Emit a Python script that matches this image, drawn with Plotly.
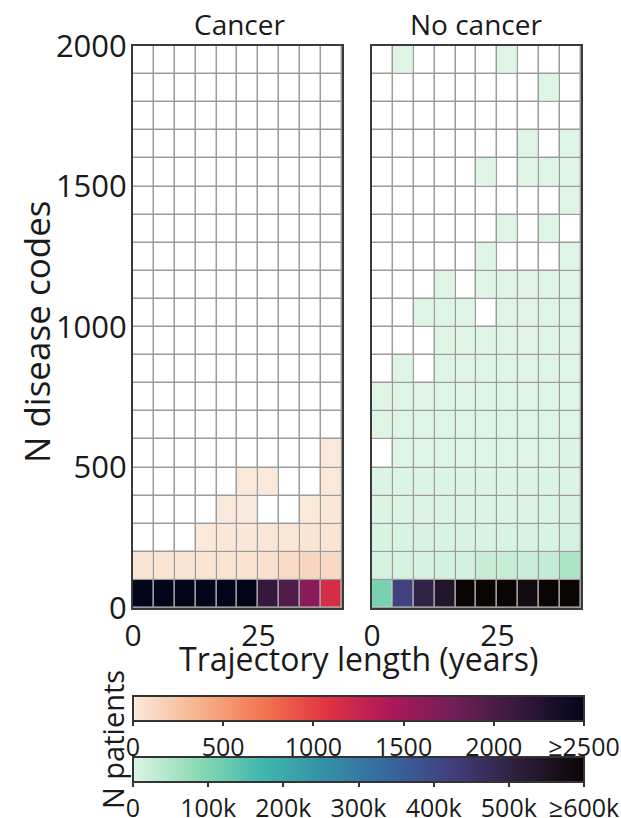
import numpy as np
import plotly.graph_objects as go

# ---------------- data ----------------
year_bin_edges = [0, 4.17, 8.33, 12.5, 16.67, 20.83, 25, 29.17, 33.33, 37.5, 41.67]
code_bin_edges = [0, 100, 200, 300, 400, 500, 600, 700, 800, 900, 1000,
                  1100, 1200, 1300, 1400, 1500, 1600, 1700, 1800, 1900, 2000]
x_tick_vals = [0, 25]
y_tick_vals = [0, 500, 1000, 1500, 2000]

N = None
# rows: bottom (0-100 codes) to top (1900-2000 codes); columns: trajectory-length bins
cancer_counts = [
    [2600, 2600, 2600, 2600, 2600, 2550, 2150, 1975, 1625, 1150],
    [45, 45, 45, 50, 55, 60, 70, 110, 140, 120],
    [N, N, N, 20, 25, 25, 30, 35, 40, 40],
    [N, N, N, N, 15, 15, N, N, 20, 25],
    [N, N, N, N, N, 10, 10, N, N, 15],
    [N, N, N, N, N, N, N, N, N, 10],
] + [[N] * 10 for _ in range(14)]

nocancer_counts = [
    [108000, 420000, 500000, 540000, 620000, 620000, 620000, 580000, 620000, 610000],
    [10000, 10000, 10000, 11000, 12000, 25000, 25000, 22000, 28000, 55000],
    [5000, 5000, 5000, 5000, 5000, 6000, 6000, 6000, 7000, 9000],
    [3000, 3000, 3000, 3000, 3000, 3500, 3500, 3500, 4000, 5000],
    [2000, 2000, 2000, 2000, 2000, 2500, 2500, 2500, 2500, 3000],
    [N, 1000, 1000, 1200, 1200, 1500, 1500, 1500, 1500, 2000],
    [500, 800, 800, 900, 900, 1000, 1000, 1000, 1000, 1200],
    [300, 400, 500, 500, 600, 600, 600, 700, 700, 800],
    [N, 200, N, 300, 300, 400, 400, 400, 500, 500],
    [N, N, N, 200, 200, 250, 250, 300, 300, 300],
    [N, N, 100, 100, 100, N, 150, 150, 200, 200],
    [N, N, N, 80, N, 100, 100, 100, 120, 120],
    [N, N, N, N, N, 60, N, N, N, 80],
    [N, N, N, N, N, N, 40, N, 50, N],
    [N, N, N, N, N, N, N, N, N, 40],
    [N, N, N, N, N, 20, N, 30, 30, 30],
    [N, N, N, N, N, N, N, 20, N, 20],
    [N, N, N, N, N, N, N, N, N, N],
    [N, N, N, N, N, N, N, N, 10, N],
    [N, 5, N, N, N, N, 5, N, N, N],
]

cancer_cbar_vals = [0, 500, 1000, 1500, 2000, 2500]
cancer_cbar_text = ["0", "500", "1000", "1500", "2000", "≥2500"]
nocancer_cbar_vals = [0, 100000, 200000, 300000, 400000, 500000, 600000]
nocancer_cbar_text = ["0", "100k", "200k", "300k", "400k", "500k", "≥600k"]

# ---------------- styling ----------------
FONT = "Open Sans"
TXT = "#1a1a1a"
W, H = 621, 818

rocket_r = [[0, "#FAEBDD"], [0.143, "#F6B48F"], [0.286, "#F37651"], [0.429, "#E13342"],
            [0.571, "#AD1759"], [0.714, "#701F57"], [0.857, "#35193E"], [1, "#03051A"]]
mako_r = [[0, "#DEF5E5"], [0.143, "#8BDAB2"], [0.286, "#40B7AD"], [0.429, "#348FA7"],
          [0.571, "#37659E"], [0.714, "#413D7B"], [0.857, "#2E1E3B"], [1, "#0B0405"]]

def px_x(p):
    return p / W

def px_y(p):
    return 1 - p / H

GAP = 1.5
fig = go.Figure()

for xa, ya, data, cax in [("x", "y", cancer_counts, "coloraxis"),
                          ("x2", "y2", nocancer_counts, "coloraxis2")]:
    z = np.array(data, dtype=float)
    fig.add_trace(go.Heatmap(
        x=year_bin_edges, y=code_bin_edges, z=np.zeros_like(z),
        colorscale=[[0, "white"], [1, "white"]], showscale=False,
        xgap=GAP, ygap=GAP, hoverinfo="skip", xaxis=xa, yaxis=ya))
    fig.add_trace(go.Heatmap(
        x=year_bin_edges, y=code_bin_edges, z=z, coloraxis=cax,
        xgap=GAP, ygap=GAP, xaxis=xa, yaxis=ya))

axis_common = dict(showgrid=False, zeroline=False, showline=True, mirror=True,
                   linecolor="#3a3a3a", linewidth=2, ticks="")
yfont = dict(family=FONT, size=31, color=TXT)
xfont = dict(family=FONT, size=30, color=TXT)

cb_common = dict(orientation="h", xanchor="left", yanchor="top",
                 lenmode="pixels", len=451, thicknessmode="pixels", thickness=25,
                 xpad=0, ypad=0, outlinewidth=2, outlinecolor="#333",
                 ticks="outside", ticklen=4, tickwidth=2, tickcolor="#333",
                 ticklabeloverflow="allow",
                 tickfont=dict(family=FONT, size=25, color=TXT))

def ann(text, x, y, size, angle=0):
    return dict(text=text, x=px_x(x), y=px_y(y), xref="paper", yref="paper",
                xanchor="center", yanchor="middle", showarrow=False,
                textangle=angle, font=dict(family=FONT, size=size, color=TXT))

fig.update_layout(
    width=W, height=H, margin=dict(l=0, r=0, t=0, b=0, autoexpand=False),
    paper_bgcolor="white", plot_bgcolor="#9b9b9b",
    font=dict(family=FONT, color=TXT),
    xaxis=dict(domain=[px_x(133), px_x(342)], range=[0, year_bin_edges[-1]],
               tickvals=x_tick_vals, tickfont=xfont, **axis_common),
    yaxis=dict(domain=[px_y(608), px_y(46)], range=[0, 2000],
               tickvals=y_tick_vals, ticklabelstandoff=-2, tickfont=yfont, **axis_common),
    xaxis2=dict(domain=[px_x(372), px_x(581)], range=[0, year_bin_edges[-1]],
                tickvals=x_tick_vals, anchor="y2", tickfont=xfont, **axis_common),
    yaxis2=dict(domain=[px_y(608), px_y(46)], range=[0, 2000], anchor="x2",
                tickvals=y_tick_vals, showticklabels=False, **axis_common),
    coloraxis=dict(colorscale=rocket_r, cmin=0, cmax=2500,
                   colorbar=dict(x=px_x(133), y=px_y(696),
                                 tickvals=cancer_cbar_vals, ticktext=cancer_cbar_text,
                                 **cb_common)),
    coloraxis2=dict(colorscale=mako_r, cmin=0, cmax=600000,
                    colorbar=dict(x=px_x(133), y=px_y(757),
                                  tickvals=nocancer_cbar_vals, ticktext=nocancer_cbar_text,
                                  **cb_common)),
    annotations=[
        ann("Cancer", 240, 24, 28),
        ann("No cancer", 476, 24, 28),
        ann("Trajectory length (years)", 358, 658, 32),
        ann("N disease codes", 36, 332, 35, -90),
        ann("N patients", 112, 740, 29, -90),
    ],
)

fig.write_html("out.html")
